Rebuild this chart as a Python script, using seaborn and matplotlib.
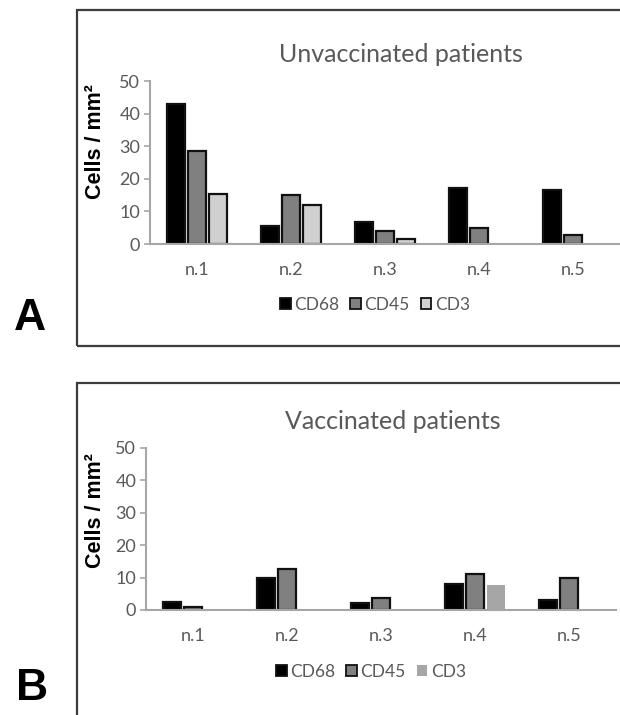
import matplotlib
matplotlib.use("Agg")
import matplotlib.pyplot as plt
from matplotlib.patches import Rectangle, Patch
import seaborn as sns
import pandas as pd

# Data: immune cell densities (cells / mm^2) per patient
patients = ["n.1", "n.2", "n.3", "n.4", "n.5"]
markers = ["CD68", "CD45", "CD3"]

unvacc_cd68 = [43.0, 5.6, 6.7, 17.3, 16.5]
unvacc_cd45 = [28.6, 15.1, 3.9, 5.0, 2.8]
unvacc_cd3 = [15.4, 12.0, 1.6, 0.0, 0.0]

vacc_cd68 = [2.6, 10.0, 2.1, 8.0, 3.2]
vacc_cd45 = [0.8, 12.6, 3.7, 11.0, 9.9]
vacc_cd3 = [0.0, 0.0, 0.0, 7.7, 0.0]

y_ticks = [0, 10, 20, 30, 40, 50]

TEXT_GRAY = "#595959"
AXIS_GRAY = "#a6a6a6"
FRAME = "#3c3c3c"
BODY_FONT = ["Lato", "DejaVu Sans"]


def long_table(cd68, cd45, cd3):
    rows = []
    for marker, vals in zip(markers, [cd68, cd45, cd3]):
        for p, v in zip(patients, vals):
            rows.append({"patient": p, "marker": marker, "value": v})
    return pd.DataFrame(rows)


sns.set_theme(style="white")
plt.rcParams["font.family"] = BODY_FONT

W, H = 620, 715
fig = plt.figure(figsize=(W / 100, H / 100), dpi=100)


def fx(px):
    return px / W


def fy(py):
    return 1 - py / H


def panel(ax, df, palette, cd3_edge, title, title_xy, legend_xy):
    sns.barplot(data=df, x="patient", y="value", hue="marker",
                hue_order=markers, order=patients, palette=palette,
                width=0.67, gap=0.17, edgecolor="#111111", linewidth=1.6,
                legend=False, ax=ax, errorbar=None)
    # CD3 bars in the vaccinated panel have no outline
    if not cd3_edge:
        for bar in ax.containers[2]:
            bar.set_edgecolor("none")
    # zero-valued bars are not drawn
    for cont in ax.containers:
        for bar in cont:
            if bar.get_height() == 0:
                bar.set_visible(False)

    ax.set_xlim(-0.5, 4.5)
    ax.set_ylim(0, 50)
    ax.set_yticks(y_ticks)
    ax.set_xlabel("")
    ax.set_ylabel("Cells / mm²", fontsize=15.5, fontweight="bold",
                  family="Liberation Sans", color="black")
    for side in ["top", "right"]:
        ax.spines[side].set_visible(False)
    for side in ["left", "bottom"]:
        ax.spines[side].set_color(AXIS_GRAY)
        ax.spines[side].set_linewidth(1.5)
    ax.tick_params(axis="y", left=True, length=4, width=1.2, color=AXIS_GRAY,
                   labelsize=13, labelcolor=TEXT_GRAY, pad=3)
    ax.tick_params(axis="x", bottom=False, labelsize=13,
                   labelcolor=TEXT_GRAY, pad=7)
    ax.grid(False)

    fig.text(fx(title_xy[0]), fy(title_xy[1]), title, ha="center",
             va="center", fontsize=18, color=TEXT_GRAY)

    handles = []
    for i, m in enumerate(markers):
        edge = "#111111" if (cd3_edge or i < 2) else "none"
        handles.append(Patch(facecolor=palette[m], edgecolor=edge,
                             linewidth=1.3))
    fig.legend(handles, markers, loc="center",
               bbox_to_anchor=(fx(legend_xy[0]), fy(legend_xy[1])),
               ncol=3, frameon=False, fontsize=12.5, labelcolor=TEXT_GRAY,
               handlelength=0.6, handleheight=0.6, handletextpad=0.2,
               columnspacing=0.65)


# Panel A: unvaccinated patients
ax_a = fig.add_axes([fx(150), fy(244), fx(470), 163 / H])
pal_a = {"CD68": "#000000", "CD45": "#808080", "CD3": "#d0d0d0"}
panel(ax_a, long_table(unvacc_cd68, unvacc_cd45, unvacc_cd3), pal_a, True,
      "Unvaccinated patients", (401, 55), (375, 305))
ax_a.yaxis.set_label_coords((106 - 150) / 470, (244 - 141.3) / 163)

# Panel B: vaccinated patients
ax_b = fig.add_axes([fx(146), fy(610), fx(470), 162.3 / H])
pal_b = {"CD68": "#000000", "CD45": "#808080", "CD3": "#a6a6a6"}
panel(ax_b, long_table(vacc_cd68, vacc_cd45, vacc_cd3), pal_b, False,
      "Vaccinated patients", (393, 421.7), (371, 671.7))
ax_b.yaxis.set_label_coords((106 - 146) / 470, (610 - 511) / 162.3)

# Outer frames around each panel
fig.add_artist(Rectangle((fx(76.5), fy(346)), 1.0, fy(10) - fy(346),
                         transform=fig.transFigure, fill=False,
                         edgecolor=FRAME, linewidth=1.6))
fig.add_artist(Rectangle((fx(76.5), fy(760)), 1.0, fy(382.5) - fy(760),
                         transform=fig.transFigure, fill=False,
                         edgecolor=FRAME, linewidth=1.6))

# Panel letters
fig.text(fx(30), fy(318), "A", ha="center", va="center", fontsize=32,
         fontweight="bold", family="Liberation Sans", color="black")
fig.text(fx(31.6), fy(688), "B", ha="center", va="center", fontsize=32,
         fontweight="bold", family="Liberation Sans", color="black")

fig.savefig("out.png", dpi=100)
